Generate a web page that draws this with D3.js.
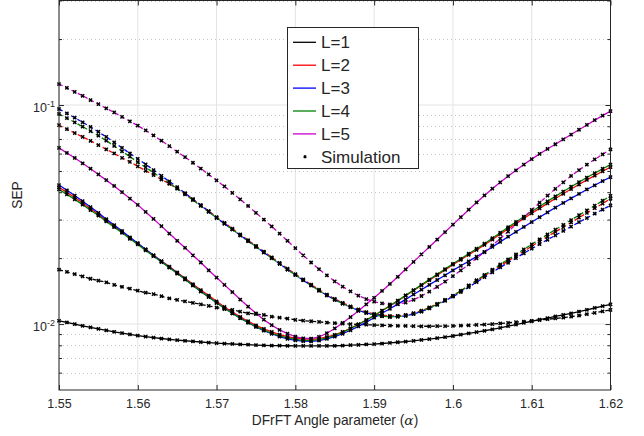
<!DOCTYPE html>
<html>
<head>
<meta charset="utf-8">
<script src="https://cdn.jsdelivr.net/npm/d3@7/dist/d3.min.js"></script>
<style>
  body { margin: 0; background: #fff; }
  text { font-family: "Liberation Sans", Arial, Helvetica, sans-serif; fill: #262626; }
</style>
</head>
<body>
<svg id="chart" width="644" height="436"></svg>
<script>
// DFrFT angle samples (step 0.001)
const alpha = d3.range(71).map((i) => +(1.55 + i * 0.001).toFixed(3));

// solid curves
const l1a = [
  .01035,.01017,.00999,.00982,.00966,.00950,.00936,.00922,.00909,.00897,
  .00885,.00876,.00867,.00859,.00852,.00845,.00839,.00833,.00828,.00823,
  .00818,.00814,.00811,.00808,.00805,.00802,.00800,.00798,.00797,.00796,
  .00795,.00795,.00795,.00795,.00795,.00796,.00798,.00801,.00804,.00807,
  .00810,.00815,.00820,.00826,.00832,.00838,.00846,.00854,.00863,.00872,
  .00882,.00894,.00906,.00919,.00932,.00945,.00961,.00978,.00995,.01012,
  .01030,.01047,.01065,.01083,.01101,.01120,.01141,.01162,.01184,.01207,
  .01230];
const l2a = [
  .0421,.0399,.0378,.0357,.0336,.0317,.0297,.0280,.0263,.0247,
  .0233,.0219,.0206,.0194,.0183,.0172,.0162,.0152,.0143,.0135,
  .0127,.01197,.01136,.01079,.01030,.00987,.00951,.00921,.00895,.00877,
  .00863,.00855,.00852,.00858,.00873,.00893,.00921,.00957,.00997,.01043,
  .01094,.01150,.01211,.01275,.01347,.01422,.01501,.01585,.01673,.01768,
  .01867,.01966,.02071,.02181,.02298,.02431,.02573,.02723,.02874,.03034,
  .03204,.03374,.03555,.03744,.03934,.04134,.04335,.04550,.04760,.04984,
  .05202];
const l3a = [
  .0431,.0408,.0386,.0364,.0342,.0322,.0301,.0283,.0266,.0249,
  .0234,.0219,.0206,.0193,.0182,.0171,.0160,.0150,.0141,.0133,
  .0125,.0118,.0112,.01064,.01016,.00971,.00934,.00903,.00876,.00856,
  .00842,.00835,.00833,.00841,.00856,.00876,.00903,.00937,.00976,.01020,
  .01069,.01120,.01174,.01233,.01297,.01365,.01435,.01510,.01589,.01670,
  .01758,.01845,.01935,.02031,.02132,.02249,.02372,.02504,.02637,.02775,
  .02923,.03075,.03235,.03403,.03572,.03749,.03926,.04116,.04301,.04498,
  .04688];
const l4a = [
  .0412,.0391,.0371,.0351,.0331,.0313,.0294,.0277,.0261,.0245,
  .0231,.0217,.0204,.0192,.0181,.0170,.0160,.0150,.0141,.0133,
  .0125,.0118,.0112,.01064,.01016,.00973,.00938,.00908,.00883,.00865,
  .00851,.00843,.00841,.00849,.00865,.00887,.00916,.00953,.00995,.01042,
  .01094,.01151,.01213,.01279,.01352,.01429,.01510,.01596,.01687,.01782,
  .01884,.01986,.02094,.02208,.02328,.02466,.02612,.02767,.02924,.03090,
  .03266,.03443,.03631,.03828,.04027,.04236,.04446,.04667,.04887,.05117,
  .05346];
const l5a = [
  .0637,.0604,.0573,.0542,.0512,.0482,.0454,.0427,.0400,.0374,
  .0350,.0325,.0302,.0280,.0259,.0240,.0223,.0206,.0191,.0176,
  .0163,.0151,.0140,.01294,.01202,.01119,.01047,.00989,.00940,.00904,
  .00877,.00861,.00859,.00875,.00908,.00955,.01012,.01076,.01148,.01230,
  .01318,.01416,.01524,.01644,.01778,.01923,.02080,.02249,.02432,.02630,
  .02844,.03076,.03327,.03589,.03864,.04150,.04436,.04732,.05035,.05346,
  .05662,.05984,.0630,.0662,.0697,.0733,.0771,.0811,.0853,.0895,
  .0938];

// dashed curves
const l1b = [
  .0177,.0173,.0169,.0165,.0161,.0158,.0155,.0151,.0148,.0145,
  .0142,.0139,.0137,.0134,.0131,.0129,.0127,.0125,.0123,.0121,
  .0119,.0117,.0116,.0114,.0112,.0111,.0110,.0108,.0107,.0106,
  .01045,.01037,.01030,.01023,.01016,.01010,.01005,.01000,.00996,.00993,
  .00990,.00987,.00984,.00982,.00980,.00978,.00977,.00977,.00978,.00979,
  .00980,.00983,.00987,.00991,.00995,.01000,.01006,.01013,.01020,.01027,
  .01035,.01043,.01052,.01061,.01070,.01080,.01094,.01109,.01125,.01142,
  .0116];
const l2b = [
  .0809,.0776,.0745,.0715,.0686,.0656,.0628,.0601,.0574,.0550,
  .0525,.0501,.0479,.0457,.0437,.0416,.0394,.0371,.0349,.0328,
  .0308,.0290,.02728,.02564,.02415,.02274,.02142,.02018,.01901,.01790,
  .01690,.01599,.01514,.01435,.01364,.01303,.01250,.01205,.01166,.01135,
  .01112,.01096,.01089,.01091,.01100,.01122,.01152,.01191,.01236,.01289,
  .01346,.01416,.01493,.01574,.01660,.01750,.01845,.01940,.02042,.02148,
  .02265,.02388,.02506,.02637,.02767,.02910,.03062,.03214,.03380,.03548,
  .03733];
const l3b = [
  .0959,.0916,.0875,.0834,.0794,.0755,.0715,.0675,.0637,.0601,
  .0568,.0536,.0505,.0475,.0448,.0422,.0396,.0372,.0348,.0327,
  .03055,.02871,.02704,.02541,.02393,.02254,.02123,.02000,.01884,.01774,
  .01675,.01585,.01500,.01422,.01352,.01291,.01239,.01194,.01156,.01125,
  .01102,.01086,.01079,.01081,.01091,.01112,.01140,.01178,.01224,.01276,
  .01334,.01400,.01476,.01553,.01637,.01722,.01816,.01905,.02000,.02104,
  .02208,.02318,.02426,.02541,.02661,.02786,.02918,.03048,.03191,.03334,
  .03483];
const l4b = [
  .0910,.0871,.0834,.0796,.0760,.0724,.0687,.0650,.0615,.0581,
  .0548,.0519,.0491,.0465,.0440,.0415,.0391,.0368,.0346,.0325,
  .03055,.02871,.02704,.02541,.02393,.02254,.02123,.02000,.01884,.01774,
  .01675,.01585,.01500,.01422,.01352,.01291,.01239,.01194,.01156,.01125,
  .01102,.01086,.01079,.01081,.01091,.01112,.01143,.01183,.01230,.01285,
  .01346,.01419,.01500,.01585,.01675,.01770,.01871,.01972,.02080,.02193,
  .02312,.02438,.02564,.02698,.02838,.02985,.03141,.03304,.03475,.03656,
  .03846];
const l5b = [
  .1247,.1197,.1148,.1102,.1054,.1009,.0966,.0925,.0883,.0843,
  .0805,.0766,.0726,.0687,.0649,.0612,.0578,.0545,.0513,.0482,
  .0453,.0425,.0397,.0371,.0346,.0322,.0300,.0279,.0259,.0240,
  .0222,.0206,.0191,.0178,.0167,.01567,.01483,.01409,.01349,.01300,
  .01265,.01242,.01230,.01233,.01253,.01291,.01343,.01406,.01479,.01563,
  .01656,.01758,.01871,.01995,.02133,.02286,.02455,.02642,.02851,.03076,
  .03319,.03581,.03855,.04140,.04436,.04742,.05047,.05346,.05649,.05957,
  .06266];

const legendLabels = ["L=1", "L=2", "L=3", "L=4", "L=5"];
const colors = ["#000000", "#ff0000", "#0000ff", "#008000", "#cc00cc"];
const xTicks = [1.55, 1.56, 1.57, 1.58, 1.59, 1.6, 1.61, 1.62];
const yMajor = [0.01, 0.1];
const yMinor = [0.006, 0.007, 0.008, 0.009, 0.02, 0.03, 0.04, 0.05, 0.06, 0.07, 0.08, 0.09, 0.2, 0.3];

const solid = [l1a, l2a, l3a, l4a, l5a];
const dashed = [l1b, l2b, l3b, l4b, l5b];

const svg = d3.select("#chart");
svg.append("rect").attr("width", 644).attr("height", 436).attr("fill", "#fff");

const x = d3.scaleLinear().domain([1.55, 1.62]).range([59, 610.5]);
const y = d3.scaleLog().domain([0.005, 0.3]).range([390, 0.5]);

// grid
const grid = svg.append("g");
grid.selectAll(".vg").data(xTicks).join("line")
  .attr("x1", (d) => x(d)).attr("x2", (d) => x(d))
  .attr("y1", y(0.3)).attr("y2", y(0.005))
  .attr("stroke", "#e3e3e3").attr("stroke-width", 1);
grid.selectAll(".hg").data(yMajor).join("line")
  .attr("x1", x(1.55)).attr("x2", x(1.62))
  .attr("y1", (d) => y(d)).attr("y2", (d) => y(d))
  .attr("stroke", "#e3e3e3").attr("stroke-width", 1);
grid.selectAll(".mg").data(yMinor).join("line")
  .attr("x1", x(1.55)).attr("x2", x(1.62))
  .attr("y1", (d) => Math.round(y(d)) + 0.5).attr("y2", (d) => Math.round(y(d)) + 0.5)
  .attr("stroke", "#c4c4c4").attr("stroke-width", 1)
  .attr("stroke-dasharray", "1,3");

const line = d3.line().x((d, i) => x(alpha[i])).y((d) => y(d));

// curves
const curves = svg.append("g").attr("fill", "none");
solid.forEach((vals, k) => {
  curves.append("path").datum(vals).attr("d", line)
    .attr("stroke", colors[k]).attr("stroke-width", 1.3);
  curves.append("path").datum(dashed[k]).attr("d", line)
    .attr("stroke", colors[k]).attr("stroke-width", 1.3)
    .attr("stroke-dasharray", "4,3");
});

// simulation markers
const mark = "M-1.6,-1.6L1.6,1.6M-1.6,1.6L1.6,-1.6";
const markers = svg.append("g").attr("stroke", "#000").attr("stroke-width", 1.5);
solid.concat(dashed).forEach((vals) => {
  markers.selectAll(null).data(vals).join("path")
    .attr("d", mark)
    .attr("transform", (d, i) => `translate(${x(alpha[i])},${y(d)})`);
});

// axes
const axisColor = "#262626";
const fmt = d3.format(".3~g");
const xAxis = svg.append("g").attr("transform", "translate(0,390)")
  .call(d3.axisBottom(x).tickValues(xTicks).tickFormat(fmt).tickSizeInner(-5).tickSizeOuter(0).tickPadding(9));
const xTop = svg.append("g").attr("transform", "translate(0,0.5)")
  .call(d3.axisTop(x).tickValues(xTicks).tickFormat("").tickSizeInner(-5).tickSizeOuter(0));
const yAxis = svg.append("g").attr("transform", "translate(59,0)")
  .call(d3.axisLeft(y).tickValues(yMajor).tickFormat("").tickSizeInner(-5).tickSizeOuter(0).tickPadding(4));
const yRight = svg.append("g").attr("transform", "translate(610.5,0)")
  .call(d3.axisRight(y).tickValues(yMajor).tickFormat("").tickSizeInner(-5).tickSizeOuter(0));
const yMinL = svg.append("g").attr("transform", "translate(59,0)")
  .call(d3.axisLeft(y).tickValues(yMinor).tickFormat("").tickSizeInner(-3).tickSizeOuter(0));
const yMinR = svg.append("g").attr("transform", "translate(610.5,0)")
  .call(d3.axisRight(y).tickValues(yMinor).tickFormat("").tickSizeInner(-3).tickSizeOuter(0));

[xAxis, xTop, yAxis, yRight, yMinL, yMinR].forEach((g) => {
  g.select(".domain").remove();
  g.selectAll("line").attr("stroke", axisColor);
  g.selectAll("text").attr("fill", axisColor).attr("font-size", 12.5)
    .attr("font-family", '"Liberation Sans", Arial, Helvetica, sans-serif');
});

yAxis.selectAll(".tick text").each(function (d) {
  const t = d3.select(this).attr("dy", "0.55em");
  t.text(null);
  t.append("tspan").text("10");
  t.append("tspan").attr("dy", "-0.55em").attr("font-size", "0.72em")
    .text(Math.round(Math.log10(d)));
});

// box
svg.append("rect")
  .attr("x", 59).attr("y", 0.5).attr("width", 610.5 - 59).attr("height", 389.5)
  .attr("fill", "none").attr("stroke", axisColor).attr("stroke-width", 1);

// axis labels
svg.append("text")
  .attr("x", 335).attr("y", 425).attr("text-anchor", "middle").attr("font-size", 13.75)
  .call((t) => {
    t.append("tspan").text("DFrFT Angle parameter (");
    t.append("tspan").attr("font-style", "italic").attr("font-family", '"DejaVu Serif", serif').text("α");
    t.append("tspan").text(")");
  });
svg.append("text")
  .attr("transform", "translate(22,195) rotate(-90)")
  .attr("text-anchor", "middle").attr("font-size", 13.75)
  .text("SEP");

// legend
const lg = svg.append("g");
lg.append("rect").attr("x", 287.5).attr("y", 27.5).attr("width", 131).attr("height", 141)
  .attr("fill", "#fff").attr("stroke", axisColor).attr("stroke-width", 1);
const rowY = (i) => 42.3 + i * 22.9;
legendLabels.forEach((lab, i) => {
  lg.append("line").attr("x1", 293).attr("x2", 316).attr("y1", rowY(i)).attr("y2", rowY(i))
    .attr("stroke", colors[i]).attr("stroke-width", 1.3);
  lg.append("text").attr("x", 321).attr("y", rowY(i)).attr("dy", "0.35em")
    .attr("font-size", 17).attr("fill", "#000").text(lab);
});
lg.append("path").attr("d", "M-1.2,-1.2L1.2,1.2M-1.2,1.2L1.2,-1.2")
  .attr("transform", `translate(305,${rowY(5)})`).attr("stroke", "#000").attr("stroke-width", 1.5);
lg.append("text").attr("x", 321).attr("y", rowY(5)).attr("dy", "0.35em")
  .attr("font-size", 17).attr("fill", "#000").text("Simulation");
</script>
</body>
</html>
